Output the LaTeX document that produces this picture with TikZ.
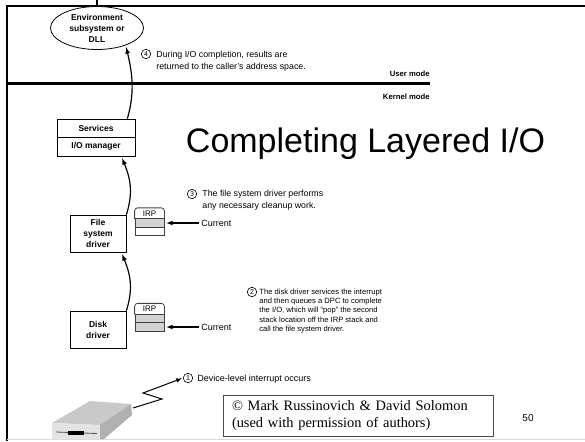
\documentclass[tikz,border=0pt]{standalone}
\usepackage{fontspec}
\setmainfont{Liberation Sans}
\newfontfamily\timesfont{Liberation Serif}
\usetikzlibrary{%
  arrows,%
  shapes,%
  shapes.geometric,%
  positioning%
}

\begin{document}
\begin{tikzpicture}
[x=1pt, y=-1pt, draw=black, line width=0.8pt,
block/.style={rectangle, draw, fill=white, inner sep=0pt, minimum width=56pt, minimum height=37pt, align=center, font=\bfseries\fontsize{8.5}{11}\selectfont},
layer/.style={rectangle, draw, fill=white, inner sep=0pt, minimum width=78pt, font=\bfseries\fontsize{8.5}{8.5}\selectfont},
irptab/.style={rectangle, inner sep=0pt, minimum width=29pt, minimum height=10.5pt, font=\fontsize{8}{8}\selectfont},
irprow0/.style={rectangle, draw=black!75, fill=white, inner sep=0pt, minimum width=29pt, minimum height=8.5pt},
irprow1/.style={rectangle, draw=black!75, fill=gray!35, inner sep=0pt, minimum width=29pt, minimum height=8.5pt},
stepnum/.style={circle, draw, line width=0.6pt, inner sep=0pt, minimum size=9.5pt, font=\fontsize{7}{7}\selectfont},
steptext/.style={anchor=west, align=left, inner sep=0pt, font=\fontsize{8.8}{11.7}\selectfont},
modetext/.style={anchor=east, inner sep=0pt, font=\bfseries\fontsize{7.7}{7.7}\selectfont},
flow/.style={->, >=latex, line width=1.2pt, shorten >=2pt},
pointer/.style={->, >=latex, line width=1.1pt, shorten >=2pt}
]
\useasboundingbox (0,0) rectangle (585,441);

\draw[line width=2pt] (7,441) -- (7,6) -- (585,6);
\draw[line width=2pt] (97,0) -- (97,6);
\draw[line width=2.5pt] (7,83.5) -- (430,83.5);
\draw[gray!30, line width=1pt] (7,439.5) -- (585,439.5);

\node[modetext] (usermode) at (430,74) {User mode};
\node[modetext] (kernelmode) at (430,97) {Kernel mode};

\node[ellipse, draw, fill=white, inner sep=0pt, minimum width=93pt, minimum height=43pt, align=center, font=\bfseries\fontsize{8.5}{11}\selectfont] (env) at (97,28) {Environment\\subsystem or\\DLL};

\node[layer, minimum height=18pt] (services) at (96,128) {Services};
\node[layer, minimum height=19pt] (iomanager) at (96,146.5) {I/O manager};

\node[block] (fsdriver) at (98,233.5) {File\\system\\driver};
\node[block] (diskdriver) at (98,329.5) {Disk\\driver};

\draw[flow] (diskdriver.north east) .. controls +(7,-22) and +(9,22) .. ([xshift=-5pt]fsdriver.south east);
\draw[flow] (fsdriver.north east) .. controls +(7,-22) and +(9,22) .. ([xshift=-14pt]iomanager.south east);
\draw[flow] ([xshift=-8pt]services.north east) .. controls +(8,-28) and +(6,26) .. (env.-31);

\node[anchor=base, inner sep=0pt, font=\fontsize{34}{34}\selectfont] (title) at (365.5,152) {Completing Layered I/O};

\node[irptab] (irpfs) at (149.5,213.5) {IRP};
\node[irprow1] (irpfs1) at (149.5,223) {};
\node[irprow0] (irpfs2) at (149.5,231.5) {};
\draw[black!75, rounded corners=3pt] (irpfs.south west) -- (irpfs.north west) -- (irpfs.north east) -- (irpfs.south east);

\node[irptab] (irpdisk) at (149.5,309) {IRP};
\node[irprow1] (irpdisk1) at (149.5,318.5) {};
\node[irprow1] (irpdisk2) at (149.5,327) {};
\draw[black!75, rounded corners=3pt] (irpdisk.south west) -- (irpdisk.north west) -- (irpdisk.north east) -- (irpdisk.south east);

\node[steptext, inner sep=2pt, font=\fontsize{9}{9}\selectfont] (curfs) at (199,223) {Current};
\node[steptext, inner sep=2pt, font=\fontsize{9}{9}\selectfont] (curdisk) at (199,327) {Current};
\draw[pointer] (curfs.west) -- (irpfs1.east);
\draw[pointer] (curdisk.west) -- (irpdisk2.east);

\node[stepnum] (n4) at (146,54) {4};
\node[steptext] (t4) at (156,61) {During I/O completion, results are\\returned to the caller's address space.};

\node[stepnum] (n3) at (192,194) {3};
\node[steptext] (t3) at (202,200) {The file system driver performs\\any necessary cleanup work.};

\node[stepnum] (n2) at (252,292) {2};
\node[steptext, font=\fontsize{7.6}{9.1}\selectfont] (t2) at (259,311) {The disk driver services the interrupt\\and then queues a DPC to complete\\the I/O, which will “pop” the second\\stack location off the IRP stack and\\call the file system driver.};

\node[stepnum] (n1) at (188,378) {1};
\node[steptext, font=\fontsize{9}{9}\selectfont] (t1) at (197,379) {Device-level interrupt occurs};

\fill[gray!42] (52,423) -- (90,401) -- (131,404) -- (100,425) -- cycle;
\fill[gray!22] (52,423) -- (100,425) -- (100,439) -- (52,439) -- cycle;
\fill[gray!62] (100,425) -- (131,404) -- (132,415) -- (104,439) -- (100,439) -- cycle;
\draw[black!70, line width=0.8pt] (56,432) -- (97,433.5);
\fill[black] (68,431) rectangle (84,435);

\coordinate (plug) at (133,408);
\draw[flow, line width=1pt, shorten >=1pt] (plug) -- (162,399) -- (143,393) -- (n1.west);

\node[draw=black!70, line width=0.8pt, minimum width=270pt, minimum height=41pt, inner sep=0pt, text width=252pt, align=left, font=\timesfont\fontsize{14.4}{17.5}\selectfont] (copyright) at (358,415.5) {© Mark Russinovich \& David Solomon\\(used with permission of authors)};

\node[font=\fontsize{10}{10}\selectfont] (pagenum) at (528,418) {50};
\end{tikzpicture}
\end{document}
